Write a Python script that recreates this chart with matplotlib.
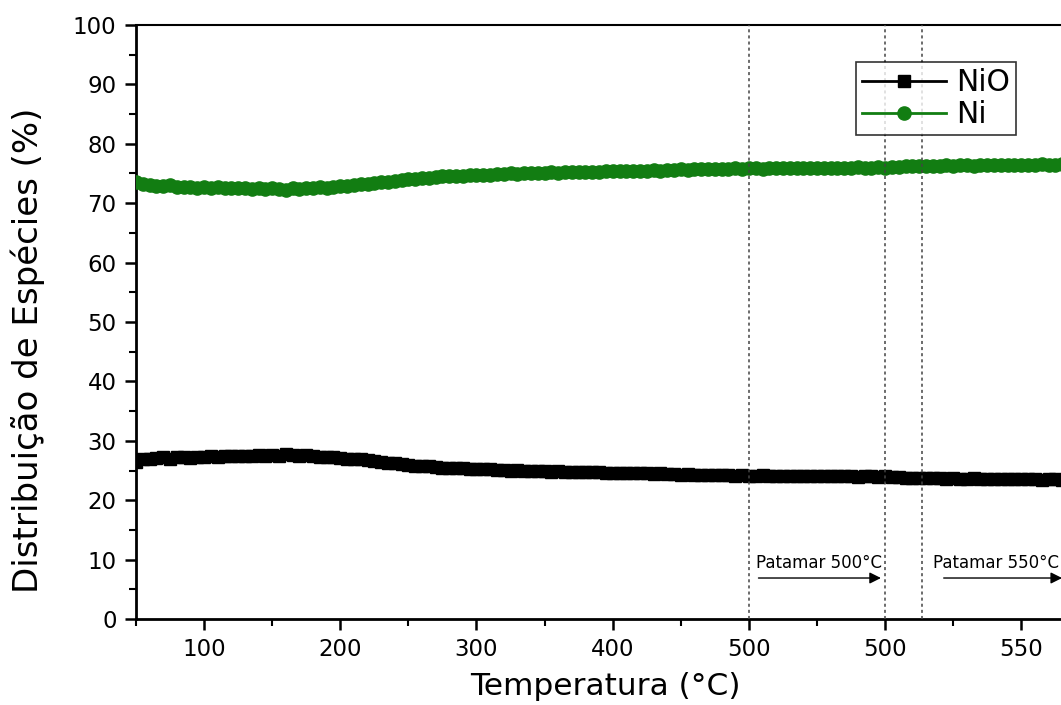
import numpy as np
import matplotlib
matplotlib.use("Agg")
import matplotlib.pyplot as plt
from matplotlib.ticker import FixedLocator, MultipleLocator

# position along the (piecewise) temperature axis: 50-500 ramp, 500 hold, 550 ramp/hold
pos = np.arange(50, 765, 5)

nio = [
    26.5, 26.9, 27.0, 27.1, 27.2, 27.0, 27.2, 27.3, 27.1, 27.3,
    27.2, 27.4, 27.3, 27.4, 27.5, 27.4, 27.5, 27.5, 27.6, 27.5,
    27.6, 27.5, 27.7, 27.6, 27.5, 27.6, 27.4, 27.3, 27.3, 27.2,
    27.1, 27.0, 26.9, 26.9, 26.7, 26.6, 26.5, 26.3, 26.2, 26.1,
    25.9, 25.8, 25.7, 25.7, 25.6, 25.5, 25.5, 25.4, 25.4, 25.3,
    25.3, 25.2, 25.2, 25.1, 25.1, 25.0, 25.1, 25.0, 24.9, 24.9,
    24.9, 24.8, 24.9, 24.8, 24.8, 24.7, 24.8, 24.7, 24.7, 24.6,
    24.6, 24.6, 24.5, 24.6, 24.5, 24.5, 24.4, 24.5, 24.4, 24.4,
    24.3, 24.4, 24.3, 24.3, 24.2, 24.3, 24.2, 24.2, 24.1, 24.2,
    24.1, 24.1, 24.2, 24.1, 24.0, 24.1, 24.1, 24.0, 24.1, 24.0,
    24.0, 24.1, 24.0, 24.0, 24.1, 24.0, 23.9, 24.0, 24.0, 23.9,
    24.0, 23.9, 23.9, 23.8, 23.8, 23.7, 23.8, 23.7, 23.7, 23.6,
    23.7, 23.6, 23.6, 23.7, 23.6, 23.5, 23.6, 23.6, 23.5, 23.5,
    23.6, 23.5, 23.5, 23.4, 23.5, 23.5, 23.4, 23.5, 23.4, 23.4,
    23.5, 23.4, 23.4]

ni = [
    73.5, 73.3, 73.0, 72.9, 72.9, 73.0, 72.8, 72.7, 72.8, 72.6,
    72.8, 72.6, 72.7, 72.5, 72.5, 72.6, 72.5, 72.4, 72.5, 72.4,
    72.5, 72.4, 72.3, 72.5, 72.4, 72.6, 72.5, 72.7, 72.6, 72.8,
    72.9, 72.9, 73.1, 73.2, 73.2, 73.4, 73.5, 73.6, 73.8, 73.9,
    74.0, 74.1, 74.3, 74.3, 74.4, 74.5, 74.5, 74.6, 74.6, 74.7,
    74.7, 74.8, 74.8, 74.9, 74.9, 75.0, 74.9, 75.0, 75.1, 75.1,
    75.1, 75.2, 75.1, 75.2, 75.2, 75.3, 75.2, 75.3, 75.3, 75.4,
    75.4, 75.4, 75.5, 75.4, 75.5, 75.5, 75.6, 75.5, 75.6, 75.6,
    75.7, 75.6, 75.7, 75.7, 75.8, 75.7, 75.8, 75.8, 75.9, 75.8,
    75.9, 75.9, 75.8, 75.9, 76.0, 75.9, 75.9, 76.0, 75.9, 76.0,
    76.0, 75.9, 76.0, 76.0, 75.9, 76.0, 76.1, 76.0, 76.0, 76.1,
    76.0, 76.1, 76.1, 76.2, 76.2, 76.3, 76.2, 76.3, 76.3, 76.4,
    76.3, 76.4, 76.4, 76.3, 76.4, 76.5, 76.4, 76.4, 76.5, 76.5,
    76.4, 76.5, 76.5, 76.6, 76.5, 76.5, 76.6, 76.5, 76.6, 76.6,
    76.5, 76.6, 76.6]

tick_pos = [100, 200, 300, 400, 500, 600, 700]
tick_labels = ["100", "200", "300", "400", "500", "500", "550"]
stage_lines = [500, 600, 627]

plt.rcParams['font.family'] = 'DejaVu Sans'

fig = plt.figure(figsize=(10.61, 7.05), dpi=100)
ax = fig.add_axes([136/1061, 86/705, 967/1061, 594/705])

green = '#127d12'
ax.plot(pos, nio, '-s', color='black', ms=8, lw=2, label='NiO', zorder=3)
ax.plot(pos, ni, '-o', color=green, ms=9.5, lw=2, label='Ni', zorder=3)

for x in stage_lines:
    ax.axvline(x, color='#444444', ls=(0, (2, 2)), lw=1.1, zorder=4)

ax.annotate('', xy=(599, 6.9), xytext=(505, 6.9),
            arrowprops=dict(arrowstyle='-|>', color='black', lw=1, mutation_scale=17))
ax.text(505, 9.4, 'Patamar 500°C', fontsize=12, va='center', ha='left')
ax.annotate('', xy=(732, 6.9), xytext=(641, 6.9),
            arrowprops=dict(arrowstyle='-|>', color='black', lw=1, mutation_scale=17))
ax.text(635, 9.4, 'Patamar 550°C', fontsize=12, va='center', ha='left')

ax.set_xlim(50, 760)
ax.set_ylim(0, 100)
ax.xaxis.set_major_locator(FixedLocator(tick_pos))
ax.set_xticklabels(tick_labels)
ax.xaxis.set_minor_locator(FixedLocator([50, 150, 250, 350, 450, 550, 650, 750]))
ax.yaxis.set_major_locator(MultipleLocator(10))
ax.yaxis.set_minor_locator(MultipleLocator(5))
ax.tick_params(which='major', direction='out', length=8, width=1.8, labelsize=16.5, pad=6)
ax.tick_params(which='minor', direction='out', length=5, width=1.5)
ax.tick_params(top=False, right=False)

ax.spines['left'].set_linewidth(2)
ax.spines['bottom'].set_linewidth(2)
ax.spines['top'].set_linewidth(1.5)

ax.set_xlabel('Temperatura (°C)', fontsize=22.5)
ax.xaxis.set_label_coords((605-136)/967, -(672-619)/594)
ax.set_ylabel('Distribuição de Espécies (%)', fontsize=24.5)
ax.yaxis.set_label_coords(-(136-45)/967, (619-350)/594)

leg = ax.legend(loc='upper left', bbox_to_anchor=((856-136)/967, (619-62)/594),
                fontsize=21.5, frameon=True, fancybox=False, handlelength=2.8,
                borderpad=0.2, labelspacing=0.1, handletextpad=0.35,
                borderaxespad=0)
leg.get_frame().set_edgecolor('black')
leg.get_frame().set_linewidth(1.2)

fig.savefig('out.png', dpi=100)
